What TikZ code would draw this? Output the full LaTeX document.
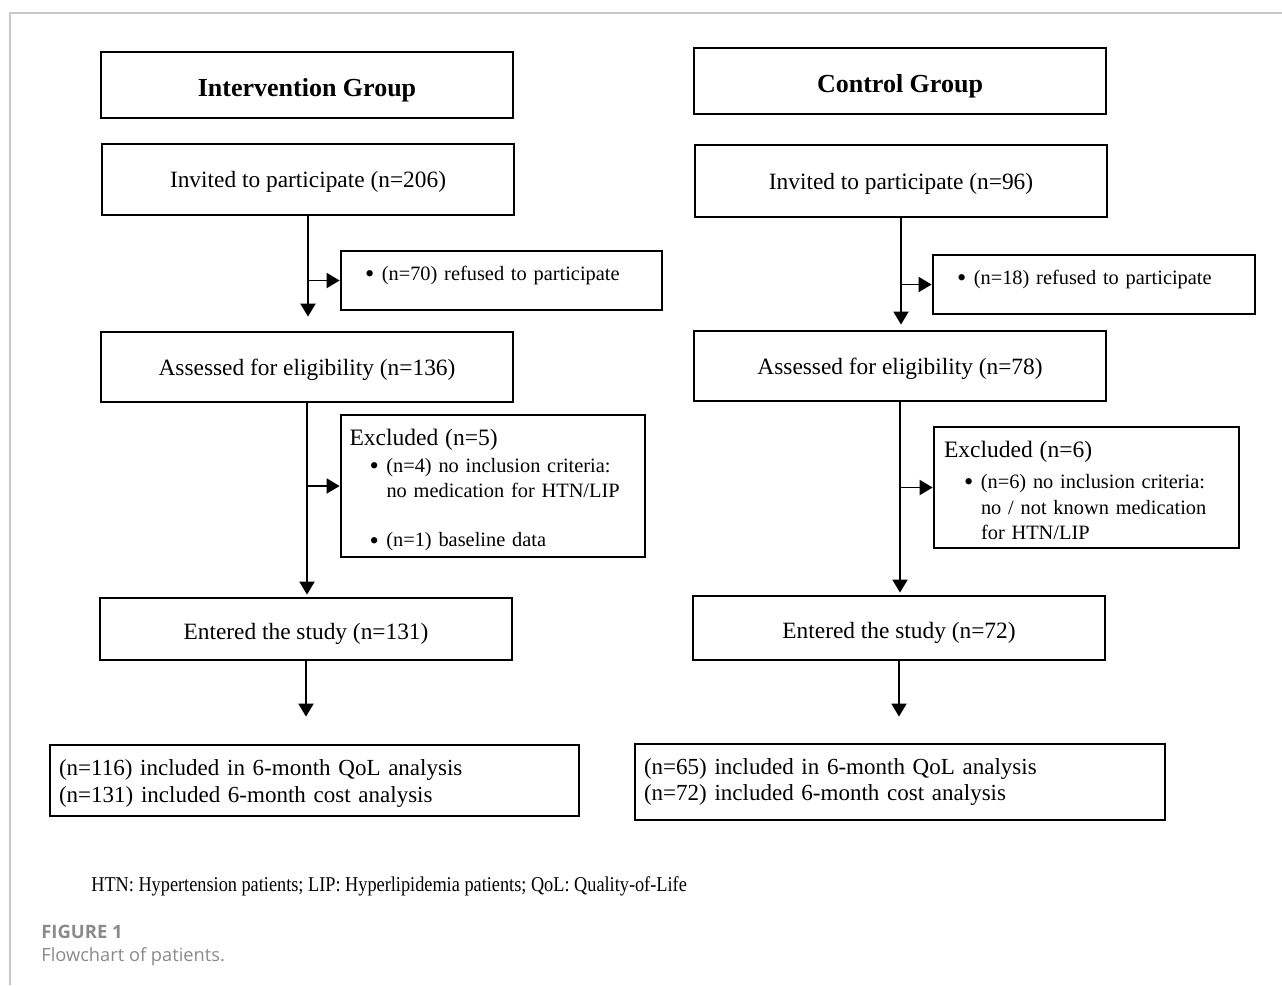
\documentclass[tikz,border=0pt]{standalone}
\usepackage{fontspec}
\setmainfont{Liberation Serif}
\newfontfamily\capfont{Open Sans}
\newfontfamily\notefont[FakeStretch=0.867]{Liberation Serif}
\usetikzlibrary{arrows.meta,positioning}
\definecolor{capgray}{HTML}{8A8A8A}
\definecolor{framegray}{HTML}{C8C8C8}
\newcommand{\itembullet}{\raisebox{-0.25ex}{\scalebox{1.3}{\textbullet}}\hspace{0.15cm}}
\tikzset{
    box/.style={% plain box with the thick border
        draw, line width=1.6pt, inner sep=0pt, minimum width=8.24cm},
    title box/.style={% group headings
        box, minimum height=1.32cm, text height=13.6pt, text depth=0pt,
        font=\fontsize{14.8}{17}\selectfont\bfseries},
    step box/.style={% main flow boxes
        box, text depth=0pt, font=\fontsize{13.3}{15.5}\selectfont},
    side box/.style={% boxes with the reasons, left aligned
        box, align=left, font=\fontsize{11.6}{14.2}\selectfont},
    end box/.style={% last boxes
        box, align=left, inner xsep=0.18cm, font=\fontsize{13.1}{15.3}\selectfont},
    flow/.style={line width=1.1pt, ->}}

\begin{document}
\begin{tikzpicture}[x=0.02cm, y=-0.02cm, >={Triangle[length=0.26cm,width=0.3cm]}]
\useasboundingbox (0,0) rectangle (1282,985);
\draw[framegray, line width=0.6pt] (10,985) -- (10,13) -- (1282,13);
% intervention group
\node[title box] at (307,85) (grp1) {Intervention Group};
\node[step box, minimum height=1.42cm] at (308,179.5) (inv1) {Invited to participate (n=206)};
\node[side box, minimum width=6.42cm, minimum height=1.18cm, text width=5.46cm, inner xsep=0.48cm] at (501.5,280.5) (ref1)
    {\itembullet(n=70) refused to participate\rule[-8pt]{0pt}{8pt}};
\node[step box, minimum height=1.4cm] at (307,367) (ass1) {Assessed for eligibility (n=136)};
\node[side box, minimum width=6.08cm, minimum height=2.84cm, text width=5.74cm, inner xsep=0.17cm] at (493,486) (exc1)
    {{\fontsize{13.4}{14}\selectfont\rule{0pt}{14pt}Excluded (n=5)}\\[1pt]
     \hspace*{0.4cm}\itembullet(n=4) no inclusion criteria:\\
     \hspace*{0.74cm}no medication for HTN/LIP\\[14pt]
     \hspace*{0.4cm}\itembullet(n=1) baseline data};
\node[step box, minimum height=1.24cm, text height=12pt] at (306,629) (ent1) {Entered the study (n=131)};
\node[end box, minimum width=10.58cm, minimum height=1.42cm, text width=10.22cm] at (314.5,780.5) (fin1)
    {\rule{0pt}{12.5pt}(n=116) included in 6-month QoL analysis\\(n=131) included 6-month cost analysis};
% control group
\node[title box] at (900,81) (grp2) {Control Group};
\node[step box, minimum height=1.44cm] at (901,181) (inv2) {Invited to participate (n=96)};
\node[side box, minimum width=6.44cm, minimum height=1.18cm, text width=5.48cm, inner xsep=0.48cm] at (1094,284.5) (ref2)
    {\itembullet(n=18) refused to participate\rule[-8pt]{0pt}{8pt}};
\node[step box, minimum height=1.4cm] at (900,366) (ass2) {Assessed for eligibility (n=78)};
\node[side box, minimum width=6.1cm, minimum height=2.42cm, text width=5.7cm, inner xsep=0.2cm] at (1086.5,487.5) (exc2)
    {{\fontsize{13.4}{14}\selectfont\rule{0pt}{13pt}Excluded (n=6)}\\[3pt]
     \hspace*{0.4cm}\itembullet(n=6) no inclusion criteria:\\[1pt]
     \hspace*{0.74cm}no / not known medication\\
     \hspace*{0.74cm}for HTN/LIP};
\node[step box, minimum height=1.28cm, text height=12pt] at (899,628) (ent2) {Entered the study (n=72)};
\node[end box, minimum width=10.6cm, minimum height=1.52cm, text width=10.24cm] at (900,782) (fin2)
    {(n=65) included in 6-month QoL analysis\\(n=72) included 6-month cost analysis};
% arrows
\draw[flow, shorten >=0.28cm] (inv1.south) -- (inv1.south |- ass1.north);
\draw[flow] (inv1.south |- ref1.west) -- (ref1.west);
\draw[flow, shorten >=0.04cm] (ass1.south) -- (ass1.south |- ent1.north);
\draw[flow] (ass1.south |- exc1.west) -- (exc1.west);
\draw[flow, shorten >=0.54cm] (ent1.south) -- (ent1.south |- fin1.north);
\draw[flow, shorten >=0.1cm] (inv2.south) -- (inv2.south |- ass2.north);
\draw[flow] (inv2.south |- ref2.west) -- (ref2.west);
\draw[flow, shorten >=0.04cm] (ass2.south) -- (ass2.south |- ent2.north);
\draw[flow] (ass2.south |- exc2.west) -- (exc2.west);
\draw[flow, shorten >=0.52cm] (ent2.south) -- (ent2.south |- fin2.north);
% note and caption
\node[anchor=west, inner sep=0pt, font=\notefont\fontsize{12}{14}\selectfont] at (91,886) (note)
    {HTN: Hypertension patients; LIP: Hyperlipidemia patients; QoL: Quality-of-Life};
\node[anchor=west, inner sep=0pt, text=capgray, font=\capfont\fontsize{10.5}{13}\selectfont\bfseries] at (41,932) (fig) {FIGURE 1};
\node[anchor=west, inner sep=0pt, text=capgray, font=\capfont\fontsize{10.4}{13}\selectfont] at (41,956.5) (cap) {Flowchart of patients.};
\end{tikzpicture}
\end{document}
